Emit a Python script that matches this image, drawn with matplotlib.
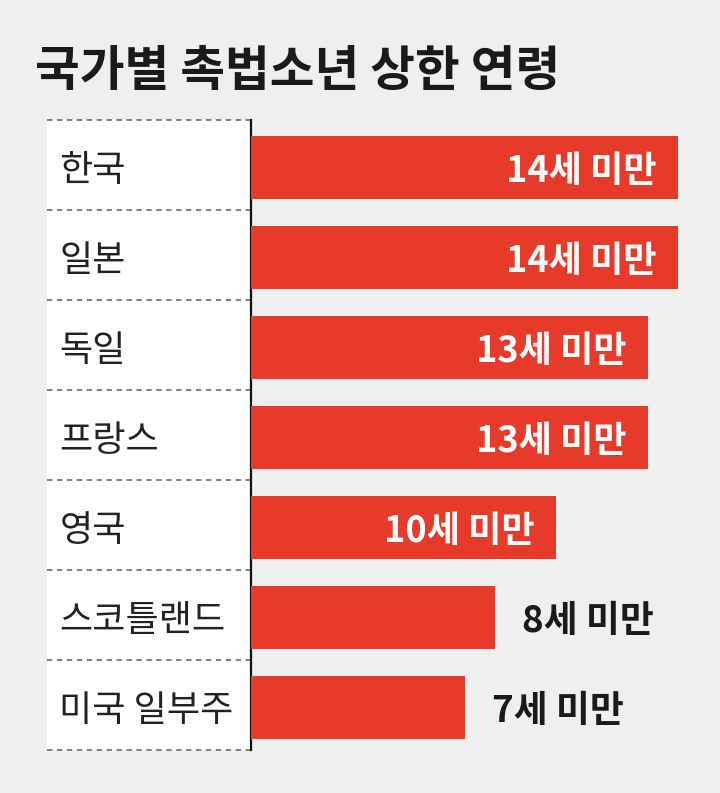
import matplotlib.pyplot as plt

plt.rcParams['font.family'] = ['Noto Sans CJK KR', 'DejaVu Sans']

# data
countries = ['한국', '일본', '독일', '프랑스', '영국', '스코틀랜드', '미국 일부주']
ages = [14, 14, 13, 13, 10, 8, 7]
title = '국가별 촉법소년 상한 연령'

W, H = 720, 793
fig = plt.figure(figsize=(W / 100, H / 100), dpi=100)
fig.patch.set_facecolor('#efefef')

top_px, bot_px = 120, 750
n = len(countries)
dy = 0.07  # nudge text down so glyphs sit on the row centre

# label panel
ax_lab = fig.add_axes([47 / W, (H - bot_px) / H, (251 - 47) / W, (bot_px - top_px) / H])
ax_lab.set_facecolor('white')
ax_lab.set_xlim(0, 1)
ax_lab.set_ylim(n - 0.5, -0.5)
for s in ['top', 'left', 'bottom']:
    ax_lab.spines[s].set_visible(False)
ax_lab.spines['right'].set_color('#111111')
ax_lab.spines['right'].set_linewidth(1.6)
ax_lab.set_xticks([])
ax_lab.set_yticks([])
for i in range(n + 1):
    ax_lab.axhline(i - 0.5, color='#777777', lw=1.3, ls=(0, (3, 2.5)), clip_on=False)
for i, c in enumerate(countries):
    ax_lab.text(0.06, i + dy, c, va='center', ha='left', fontsize=26, color='#222222')

# bars
px_per_unit = 30.5
ax = fig.add_axes([251 / W, (H - bot_px) / H, (W - 251) / W, (bot_px - top_px) / H])
ax.set_facecolor('none')
ax.set_xlim(0, (W - 251) / px_per_unit)
ax.set_ylim(n - 0.5, -0.5)
ax.axis('off')
ax.barh([i + 0.03 for i in range(n)], ages, height=0.7, color='#e63a2a')
for i, a in enumerate(ages):
    lbl = f'{a}세 미만'
    if a >= 10:
        ax.text(a - 0.7, i + dy, lbl, va='center', ha='right', fontsize=26,
                fontweight='bold', color='white')
    else:
        ax.text(a + 0.9, i + dy, lbl, va='center', ha='left', fontsize=26.5,
                fontweight='bold', color='#1a1a1a')

fig.text(35 / W, 1 - 71 / H, title, va='center', ha='left', fontsize=35,
         fontweight='black', color='#1a1a1a')

fig.savefig('out.png', dpi=100, facecolor=fig.get_facecolor())
